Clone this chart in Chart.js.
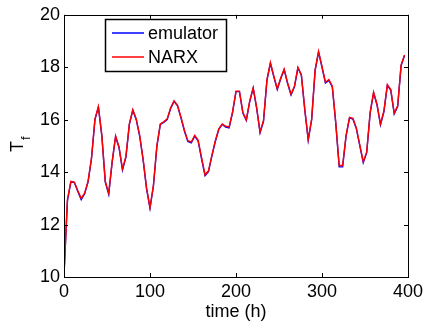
<!DOCTYPE html>
<html>
<head>
<meta charset="utf-8">
<script src="https://cdn.jsdelivr.net/npm/chart.js@4"></script>
<style>
  html, body { margin: 0; padding: 0; background: #fff; }
  canvas { display: block; }
</style>
</head>
<body>
<canvas id="tfChart" width="427" height="328"></canvas>
<script>
// time in hours, sampled every 4 h
const hours = [0,4,8,12,16,20,24,28,32,36,40,44,48,52,56,60,64,68,72,76,80,84,88,92,96,100,104,108,112,116,120,124,128,132,136,140,144,148,152,156,160,164,168,172,176,180,184,188,192,196,200,204,208,212,216,220,224,228,232,236,240,244,248,252,256,260,264,268,272,276,280,284,288,292,296,300,304,308,312,316,320,324,328,332,336,340,344,348,352,356,360,364,368,372,376,380,384,388,392,396];

const narx = [10.1,12.96,13.65,13.62,13.3,13.0,13.2,13.65,14.55,16.03,16.5,15.4,13.65,13.2,14.4,15.38,14.96,14.12,14.59,15.84,
  16.38,16.03,15.4,14.5,13.4,12.65,13.5,15.0,15.84,15.92,16.03,16.45,16.72,16.55,16.1,15.6,15.2,15.15,15.4,15.21,
  14.55,13.9,14.05,14.65,15.2,15.65,15.84,15.75,15.72,16.3,17.09,17.09,16.28,16.0,16.72,17.22,16.47,15.53,15.97,17.53,
  18.18,17.66,17.18,17.59,17.93,17.41,16.97,17.28,18.0,17.72,16.4,15.25,16.03,17.9,18.6,18.03,17.43,17.53,17.28,15.9,
  14.25,14.25,15.4,16.09,16.05,15.68,15.03,14.4,14.77,16.28,17.05,16.59,15.84,16.34,17.34,17.15,16.25,16.53,18.09,18.47];

const emulator = [10.1,12.9,13.63,13.6,13.27,12.95,13.18,13.63,14.52,16.0,16.48,15.38,13.62,13.15,14.38,15.36,14.93,14.08,14.57,15.82,
  16.36,16.0,15.37,14.47,13.36,12.62,13.47,14.98,15.82,15.9,16.0,16.43,16.7,16.53,16.07,15.57,15.17,15.12,15.37,15.18,
  14.5,13.86,14.02,14.62,15.17,15.63,15.82,15.72,15.69,16.27,17.07,17.07,16.25,15.97,16.7,17.2,16.44,15.5,15.94,17.5,
  18.15,17.63,17.15,17.56,17.9,17.38,16.94,17.25,17.97,17.7,16.37,15.22,16.0,17.87,18.58,18.0,17.4,17.5,17.25,15.87,
  14.2,14.2,15.37,16.07,16.02,15.65,15.0,14.36,14.74,16.25,17.02,16.56,15.8,16.3,17.31,17.12,16.22,16.5,18.06,18.45];

const xTicks = [0, 100, 200, 300, 400];
const yTicks = [10, 12, 14, 16, 18, 20];

const FONT = "'Liberation Sans', Arial, sans-serif";

// rahmen, innenliegende ticks, legende und achsentitel
const framePlugin = {
  id: "frame",
  afterDraw(chart) {
    const ctx = chart.ctx;
    const a = chart.chartArea;
    const xs = chart.scales.x, ys = chart.scales.y;
    ctx.save();
    ctx.strokeStyle = "#000";
    ctx.lineWidth = 1;
    ctx.strokeRect(Math.round(a.left) + 0.5, Math.round(a.top) + 0.5,
      Math.round(a.right - a.left), Math.round(a.bottom - a.top));

    const tl = 4;
    ctx.beginPath();
    xTicks.forEach(v => {
      const px = Math.round(xs.getPixelForValue(v)) + 0.5;
      ctx.moveTo(px, a.bottom); ctx.lineTo(px, a.bottom - tl);
      ctx.moveTo(px, a.top); ctx.lineTo(px, a.top + tl);
    });
    yTicks.forEach(v => {
      const py = Math.round(ys.getPixelForValue(v)) + 0.5;
      ctx.moveTo(a.left, py); ctx.lineTo(a.left + tl, py);
      ctx.moveTo(a.right, py); ctx.lineTo(a.right - tl, py);
    });
    ctx.stroke();

    // legende
    const bx = 105, by = 19, bw = 121, bh = 52;
    ctx.fillStyle = "#fff";
    ctx.fillRect(bx, by, bw, bh);
    ctx.lineWidth = 1.5;
    ctx.strokeRect(bx + 0.5, by + 0.5, bw, bh);
    ctx.font = "18px " + FONT;
    ctx.textBaseline = "middle";
    ctx.textAlign = "left";
    chart.data.datasets.forEach((ds, i) => {
      const cy = by + 14 + i * 24;
      ctx.strokeStyle = ds.borderColor;
      ctx.lineWidth = 1.5;
      ctx.beginPath();
      ctx.moveTo(112, cy); ctx.lineTo(144, cy);
      ctx.stroke();
      ctx.fillStyle = "#000";
      ctx.fillText(ds.label, 148, cy + 1);
    });

    // y-achsentitel T_f
    ctx.fillStyle = "#000";
    ctx.save();
    ctx.translate(23, 152);
    ctx.rotate(-Math.PI / 2);
    ctx.textAlign = "left";
    ctx.textBaseline = "alphabetic";
    ctx.font = "18px " + FONT;
    ctx.fillText("T", 0, 0);
    const tw = ctx.measureText("T").width;
    ctx.font = "13px " + FONT;
    ctx.fillText("f", tw + 1, 7);
    ctx.restore();

    // x-achsentitel
    ctx.font = "18px " + FONT;
    ctx.textAlign = "center";
    ctx.textBaseline = "middle";
    ctx.fillText("time (h)", (a.left + a.right) / 2, 312);
    ctx.restore();
  }
};

new Chart(document.getElementById("tfChart"), {
  type: "line",
  data: {
    labels: hours,
    datasets: [
      {
        label: "emulator",
        data: hours.map((h, i) => ({ x: h, y: emulator[i] })),
        borderColor: "#0000ff",
        borderWidth: 1.4,
        pointRadius: 0,
        tension: 0,
        order: 2
      },
      {
        label: "NARX",
        data: hours.map((h, i) => ({ x: h, y: narx[i] })),
        borderColor: "#ff0000",
        borderWidth: 1.4,
        pointRadius: 0,
        tension: 0,
        order: 1
      }
    ]
  },
  options: {
    responsive: false,
    animation: false,
    devicePixelRatio: 1,
    layout: { padding: { top: 11, right: 17, left: 0, bottom: 0 } },
    plugins: { legend: { display: false }, tooltip: { enabled: false } },
    scales: {
      x: {
        type: "linear",
        min: 0, max: 400,
        afterBuildTicks: s => { s.ticks = xTicks.map(v => ({ value: v })); },
        afterFit: s => { s.height = 51; },
        grid: { display: false, drawTicks: false },
        border: { display: false },
        ticks: { color: "#000", font: { family: FONT, size: 18 }, padding: 4, maxRotation: 0 }
      },
      y: {
        min: 10, max: 20,
        afterBuildTicks: s => { s.ticks = yTicks.map(v => ({ value: v })); },
        afterFit: s => { s.width = 64; },
        grid: { display: false, drawTicks: false },
        border: { display: false },
        ticks: { color: "#000", font: { family: FONT, size: 18 }, padding: 4 }
      }
    }
  },
  plugins: [framePlugin]
});
</script>
</body>
</html>
